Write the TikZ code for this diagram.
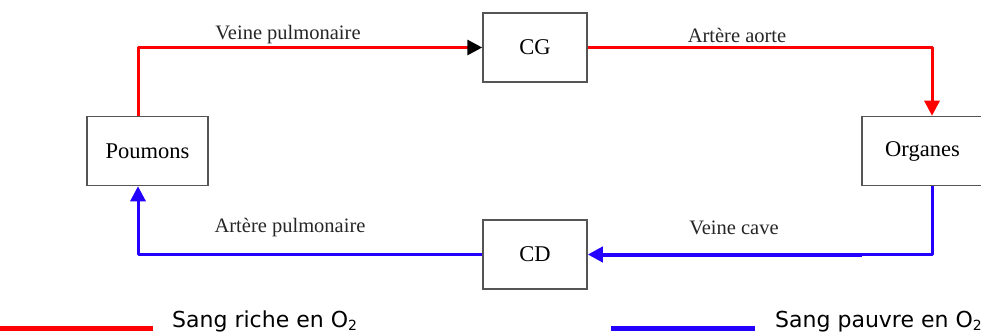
\documentclass[tikz,border=0pt]{standalone}
\usepackage{fontspec}
\setmainfont{Liberation Serif}
\newfontfamily\legendfont{DejaVu Sans}
\usetikzlibrary{arrows.meta}
\definecolor{rouge}{RGB}{255,0,0}
\definecolor{bleu}{RGB}{35,0,255}
\definecolor{bord}{RGB}{85,85,85}
\newcommand{\oxsub}{\raisebox{-3pt}{\fontsize{14}{14}\selectfont 2}}
\begin{document}
\begin{tikzpicture}[x=1pt,y=-1pt,
  organ/.style={draw=bord, line width=1.5pt, fill=white, minimum width=104pt, minimum height=69pt, inner sep=0pt, font=\fontsize{22.5}{24}\selectfont},
  wide/.style={organ, minimum width=121pt},
  vessel/.style={line width=3pt, line join=round},
  tip/.style={-{Triangle[length=15pt,width=15pt]}},
  lbl/.style={inner sep=0pt, font=\fontsize{20.5}{22}\selectfont, text=black!85},
  leg/.style={inner sep=0pt, anchor=base west, font=\legendfont\fontsize{22}{24}\selectfont}
]
\useasboundingbox (0,0) rectangle (981,334);

\node[wide] (P) at (147.5,151) {Poumons};
\node[organ] (CG) at (535,47.5) {CG};
\node[wide] (O) at (922.5,151) {Organes};
\node[organ] (CD) at (535,254.5) {CD};

% red circuit
\draw[vessel, rouge, -{Triangle[length=15pt,width=15pt,color=black]}] ([xshift=-9.5pt]P.north) |- (CG.west);
\draw[vessel, rouge, tip] (CG.east) -| ([xshift=9.5pt]O.north);
% blue circuit
\draw[vessel, bleu] ([xshift=9.5pt]O.south) |- (862,254.5) coordinate (vc);
\draw[vessel, bleu, line width=4pt, tip] (vc) -- (CD.east);
\draw[vessel, bleu, tip] (CD.west) -| ([xshift=-9.5pt]P.south);

\node[lbl] (l1) at (288,35) {Veine pulmonaire};
\node[lbl] (l2) at (737,35) {Artère aorte};
\node[lbl] (l3) at (734,228) {Veine cave};
\node[lbl] (l4) at (290,227.5) {Artère pulmonaire};

% legend
\draw[rouge, line width=5pt] (0,328) -- (153,328);
\draw[bleu, line width=5pt] (611,328) -- (755,328);
\node[leg] (g1) at (172,327) {Sang riche en O\oxsub};
\node[leg] (g2) at (775,327) {Sang pauvre en O\oxsub};
\end{tikzpicture}
\end{document}
